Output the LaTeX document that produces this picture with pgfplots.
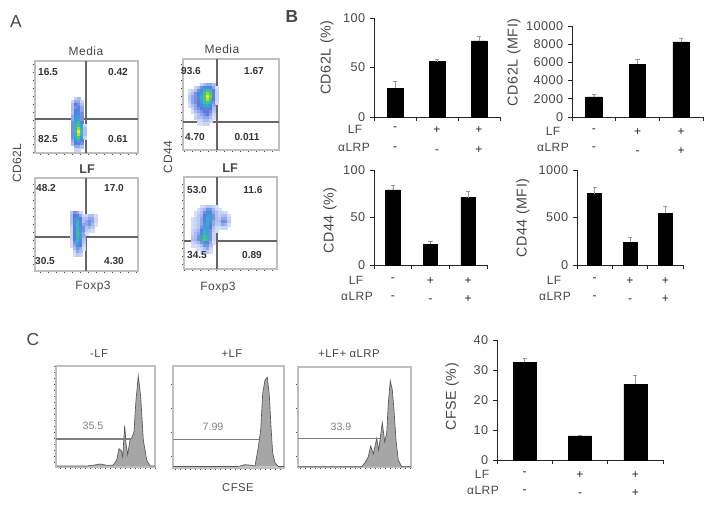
\documentclass[border=0pt]{standalone}
\usepackage{pgfplots}
\pgfplotsset{compat=1.18}
\usepackage{fontspec}
\setmainfont{Liberation Sans}[LetterSpace=4]
\newfontfamily\numf{Liberation Sans}
\definecolor{txt}{gray}{0.28}
\newcommand\T[4][]{\node[inner sep=0pt,text=txt,font=\fontsize{9}{11}\selectfont,#1] at (#2*0.75pt,-#3*0.75pt) {#4};}
\newcommand\N[3]{\node[inner sep=0pt,text=black!80,font=\fontsize{7.6}{9}\numf\bfseries] at (#1*0.75pt,-#2*0.75pt) {#3};}
\pgfplotsset{
 colormap={flow}{rgb=(.9,.92,.99) rgb=(.35,.48,.87) rgb=(.2,.7,.8) rgb=(.35,.8,.3) rgb=(.95,.9,.2)},
 flowax/.style={scale only axis,clip=true,y dir=reverse,axis line style={draw=gray!50,line width=.9pt},
   tick align=outside,major tick length=1.5pt,tick style={draw=black!70,line width=.4pt},
   xticklabels={},yticklabels={},xtick distance=8,ytick distance=8,
   xtick pos=bottom,ytick pos=left,point meta min=0,point meta max=1,colormap name=flow},
 cross/.style={draw=black!60,line width=1.1pt,forget plot},
 blob/.style={scatter,only marks,mark=square*,mark size=1.15pt,scatter src=explicit,
   scatter/use mapped color={draw=mapped color,fill=mapped color}},
 histfill/.style={fill=gray!70,draw=black!65,line width=.5pt},
 gate/.style={draw=gray,line width=.9pt},
 barax/.style={scale only axis,clip=false,axis lines=left,x axis line style={-},y axis line style={-},
   axis line style={draw=black!85,line width=.7pt},
   xmin=-.5,xmax=2.5,ymin=0,
   major tick length=3pt,
   tick style={draw=black!85,line width=.6pt},
   xtick={-.5,.5,1.5,2.5},xticklabels={},
   extra x ticks={0,1,2},
   extra x tick labels={{-\\[#1]-},{+\\[#1]-},{+\\[#1]+}},
   extra x tick style={major tick length=0pt},
   xticklabel style={align=center,text=black!85,font=\fontsize{9}{11}\selectfont},
   yticklabel style={text=txt,font=\fontsize{9.5}{11}\selectfont},
   /pgf/number format/assume math mode=true,/pgf/number format/1000 sep={},
   tick align=outside,xtick pos=bottom,ytick pos=left,
   ylabel style={text=txt,font=\fontsize{10.7}{12}\selectfont},
 },
 barax/.default=2.7pt,
 bars/.style={ybar,bar width=#1*0.75pt,fill=black,draw=black,bar shift=0pt,
   error bars/.cd,y dir=plus,y explicit,error bar style={draw=gray!80,line width=.5pt},
   error mark options={rotate=90,mark size=1.6pt,draw=gray!80,line width=.4pt}},
}
\begin{document}
\begin{tikzpicture}
\path[use as bounding box] (0,0) rectangle (541.5pt,-384.75pt);
% ---------- Panel A ----------
\begin{axis}[flowax,at={(35*0.75pt,-153*0.75pt)},anchor=south west,width=103*0.75pt,height=92*0.75pt,
 xmin=35,xmax=138,ymin=61,ymax=153]
\addplot[blob] coordinates {
(76,99)[.05](79,99)[.1]
(73,102)[.05](76,102)[.15](79,102)[.15](82,102)[.05]
(73,105)[.1](76,105)[.25](79,105)[.2](82,105)[.1]
(73,108)[.1](76,108)[.2](79,108)[.3](82,108)[.15]
(73,111)[.1](76,111)[.25](79,111)[.3](82,111)[.15]
(73,114)[.1](76,114)[.25](79,114)[.35](82,114)[.2]
(73,117)[.15](76,117)[.3](79,117)[.4](82,117)[.2]
(73,120)[.15](76,120)[.35](79,120)[.45](82,120)[.2]
(73,123)[.2](76,123)[.45](79,123)[.55](82,123)[.3]
(73,126)[.2](76,126)[.5](79,126)[.7](82,126)[.4](85,126)[.05]
(73,129)[.2](76,129)[.5](79,129)[.85](82,129)[.5](85,129)[.1]
(73,132)[.2](76,132)[.55](79,132)[1](82,132)[.6](85,132)[.1]
(73,135)[.2](76,135)[.5](79,135)[.9](82,135)[.5](85,135)[.1]
(73,138)[.2](76,138)[.45](79,138)[.7](82,138)[.4](85,138)[.05]
(73,141)[.15](76,141)[.35](79,141)[.5](82,141)[.3]
(73,144)[.1](76,144)[.25](79,144)[.3](82,144)[.2]
(76,147)[.15](79,147)[.15](82,147)[.1]
(76,150)[.05](79,150)[.05]
};
\addplot[cross] coordinates {(86,61)(86,153)};
\addplot[cross] coordinates {(35,119)(138,119)};
\end{axis}
\begin{axis}[flowax,at={(183*0.75pt,-150*0.75pt)},anchor=south west,width=96*0.75pt,height=91*0.75pt,
 xmin=183,xmax=279,ymin=59,ymax=150]
\addplot[blob] coordinates {
(202,85)[.05](205,85)[.1](208,85)[.15](211,85)[.15](214,85)[.1]
(196,88)[.05](199,88)[.1](202,88)[.2](205,88)[.3](208,88)[.35](211,88)[.3](214,88)[.15](217,88)[.03]
(190,91)[.03](193,91)[.05](196,91)[.1](199,91)[.2](202,91)[.3](205,91)[.5](208,91)[.6](211,91)[.55](214,91)[.25](217,91)[.05]
(190,94)[.05](193,94)[.1](196,94)[.2](199,94)[.3](202,94)[.4](205,94)[.65](208,94)[.85](211,94)[.7](214,94)[.3](217,94)[.05]
(190,97)[.08](193,97)[.15](196,97)[.2](199,97)[.3](202,97)[.45](205,97)[.7](208,97)[1](211,97)[.8](214,97)[.3](217,97)[.05]
(190,100)[.08](193,100)[.15](196,100)[.2](199,100)[.3](202,100)[.45](205,100)[.65](208,100)[.9](211,100)[.7](214,100)[.25](217,100)[.05]
(190,103)[.05](193,103)[.15](196,103)[.2](199,103)[.25](202,103)[.4](205,103)[.55](208,103)[.7](211,103)[.5](214,103)[.2](217,103)[.03]
(190,106)[.03](193,106)[.1](196,106)[.15](199,106)[.25](202,106)[.3](205,106)[.4](208,106)[.45](211,106)[.35](214,106)[.15]
(193,109)[.05](196,109)[.15](199,109)[.2](202,109)[.25](205,109)[.3](208,109)[.3](211,109)[.25](214,109)[.1]
(193,112)[.03](196,112)[.1](199,112)[.15](202,112)[.2](205,112)[.25](208,112)[.25](211,112)[.2](214,112)[.08]
(196,115)[.05](199,115)[.1](202,115)[.15](205,115)[.2](208,115)[.25](211,115)[.15](214,115)[.05]
(196,118)[.05](199,118)[.1](202,118)[.1](205,118)[.15](208,118)[.15](211,118)[.1](214,118)[.03]
(199,121)[.05](202,121)[.05](205,121)[.1](208,121)[.1](211,121)[.05]
(199,124)[.03](202,124)[.03](205,124)[.05](208,124)[.05]
};
\addplot[cross,line width=.8pt] coordinates {(217,59)(217,150)};
\addplot[cross,line width=.8pt] coordinates {(183,122)(279,122)};
\end{axis}
\begin{axis}[flowax,at={(35*0.75pt,-271*0.75pt)},anchor=south west,width=103*0.75pt,height=93*0.75pt,
 xmin=35,xmax=138,ymin=178,ymax=271]
\addplot[blob] coordinates {
(72,213)[.08](75,213)[.2](78,213)[.15](81,213)[.05]
(72,216)[.1](75,216)[.25](78,216)[.3](81,216)[.15](84,216)[.05](87,216)[.05](90,216)[.1](93,216)[.1](96,216)[.03]
(72,219)[.1](75,219)[.3](78,219)[.4](81,219)[.25](84,219)[.1](87,219)[.1](90,219)[.15](93,219)[.15](96,219)[.05]
(72,222)[.1](75,222)[.3](78,222)[.5](81,222)[.3](84,222)[.1](87,222)[.15](90,222)[.2](93,222)[.15](96,222)[.05]
(72,225)[.08](75,225)[.3](78,225)[.55](81,225)[.3](84,225)[.15](87,225)[.15](90,225)[.2](93,225)[.12](96,225)[.03]
(72,228)[.05](75,228)[.25](78,228)[.5](81,228)[.35](84,228)[.2](87,228)[.1](90,228)[.12](93,228)[.08]
(72,231)[.05](75,231)[.25](78,231)[.55](81,231)[.4](84,231)[.2](87,231)[.08](90,231)[.05](93,231)[.03]
(72,234)[.05](75,234)[.25](78,234)[.6](81,234)[.45](84,234)[.15](87,234)[.03]
(72,237)[.05](75,237)[.25](78,237)[.6](81,237)[.4](84,237)[.15]
(72,240)[.05](75,240)[.25](78,240)[.5](81,240)[.35](84,240)[.1]
(72,243)[.03](75,243)[.2](78,243)[.45](81,243)[.3](84,243)[.08]
(72,246)[.03](75,246)[.15](78,246)[.35](81,246)[.25](84,246)[.05]
(75,249)[.1](78,249)[.2](81,249)[.15](84,249)[.03]
(75,252)[.05](78,252)[.15](81,252)[.1]
(75,255)[.03](78,255)[.08](81,255)[.05]
};
\addplot[cross] coordinates {(86,178)(86,271)};
\addplot[cross] coordinates {(35,237)(138,237)};
\end{axis}
\begin{axis}[flowax,at={(184*0.75pt,-269*0.75pt)},anchor=south west,width=93*0.75pt,height=92*0.75pt,
 xmin=184,xmax=277,ymin=177,ymax=269]
\addplot[blob] coordinates {
(202,207)[.03](205,207)[.05](208,207)[.08](211,207)[.08](214,207)[.05](217,207)[.03]
(199,210)[.03](202,210)[.08](205,210)[.12](208,210)[.2](211,210)[.2](214,210)[.12](217,210)[.05](220,210)[.03]
(196,213)[.03](199,213)[.05](202,213)[.1](205,213)[.2](208,213)[.3](211,213)[.3](214,213)[.15](217,213)[.1](220,213)[.05](223,213)[.05](226,213)[.03]
(196,216)[.03](199,216)[.08](202,216)[.12](205,216)[.25](208,216)[.4](211,216)[.35](214,216)[.2](217,216)[.1](220,216)[.05](223,216)[.1](226,216)[.1](229,216)[.03]
(193,219)[.03](196,219)[.05](199,219)[.08](202,219)[.15](205,219)[.3](208,219)[.45](211,219)[.4](214,219)[.2](217,219)[.1](220,219)[.08](223,219)[.15](226,219)[.15](229,219)[.05]
(193,222)[.03](196,222)[.05](199,222)[.08](202,222)[.15](205,222)[.3](208,222)[.45](211,222)[.35](214,222)[.15](217,222)[.1](220,222)[.1](223,222)[.2](226,222)[.2](229,222)[.08]
(193,225)[.03](196,225)[.05](199,225)[.08](202,225)[.15](205,225)[.35](208,225)[.45](211,225)[.3](214,225)[.15](217,225)[.08](220,225)[.08](223,225)[.15](226,225)[.12](229,225)[.03]
(193,228)[.03](196,228)[.05](199,228)[.08](202,228)[.2](205,228)[.4](208,228)[.4](211,228)[.25](214,228)[.1](217,228)[.05](220,228)[.03](223,228)[.05](226,228)[.05]
(193,231)[.05](196,231)[.08](199,231)[.12](202,231)[.25](205,231)[.45](208,231)[.4](211,231)[.2](214,231)[.08](217,231)[.03]
(193,234)[.05](196,234)[.1](199,234)[.15](202,234)[.3](205,234)[.5](208,234)[.45](211,234)[.2](214,234)[.05]
(193,237)[.08](196,237)[.1](199,237)[.2](202,237)[.4](205,237)[.65](208,237)[.5](211,237)[.2](214,237)[.05]
(193,240)[.1](196,240)[.12](199,240)[.2](202,240)[.45](205,240)[.7](208,240)[.55](211,240)[.2](214,240)[.05]
(193,243)[.05](196,243)[.08](199,243)[.12](202,243)[.2](205,243)[.35](208,243)[.3](211,243)[.15](214,243)[.03]
(193,246)[.03](196,246)[.03](199,246)[.05](202,246)[.1](205,246)[.2](208,246)[.2](211,246)[.1]
(199,249)[.03](202,249)[.05](205,249)[.1](208,249)[.15](211,249)[.05]
(202,252)[.03](205,252)[.05](208,252)[.08](211,252)[.03]
};
\addplot[cross,line width=.8pt] coordinates {(217,177)(217,269)};
\addplot[cross,line width=.8pt] coordinates {(184,241)(277,241)};
\end{axis}
\T[font=\fontsize{13}{15}\selectfont]{16}{22}{A}
\T{86}{51}{Media}\T{222}{49}{Media}
\T[font=\fontsize{9.5}{11}\numf\bfseries]{87}{169}{LF}\T[font=\fontsize{9.5}{11}\numf\bfseries]{230}{168}{LF}
\T[rotate=90]{17}{163}{CD62L}\T[rotate=90]{168}{157}{CD44}
\T{93}{287}{Foxp3}\T{218}{288}{Foxp3}
\N{48}{72}{16.5}\N{118}{72}{0.42}\N{48}{139}{82.5}\N{118}{139}{0.61}
\N{191}{71}{93.6}\N{254}{71}{1.67}\N{195}{137}{4.70}\N{247}{137}{0.011}
\N{46}{188}{48.2}\N{114}{188}{17.0}\N{45}{261}{30.5}\N{114}{261}{4.30}
\N{197}{190}{53.0}\N{253}{190}{11.6}\N{197}{255}{34.5}\N{252}{255}{0.89}
% ---------- Panel B ----------
\begin{axis}[barax=4pt,at={(374*0.75pt,-117*0.75pt)},anchor=south west,width=126*0.75pt,height=99*0.75pt,
 ymax=100,ytick={0,50,100},ylabel={CD62L (\%)},xticklabel style={yshift=-3.5pt},
 every axis y label/.append style={at={(axis description cs:-.373,.6)},anchor=center}]
\addplot[bars=16] coordinates {(0,29) +- (0,7) (1,56) +- (0,2) (2,77) +- (0,5)};
\end{axis}
\begin{axis}[barax,at={(572*0.75pt,-117*0.75pt)},anchor=south west,width=131*0.75pt,height=91*0.75pt,
 ymax=10000,ytick={0,2000,4000,6000,8000,10000},ylabel={CD62L (MFI)},scaled y ticks=false,xticklabel style={yshift=-5.5pt},
 every axis y label/.append style={at={(axis description cs:-.443,.6)},anchor=center}]
\addplot[bars=16.5] coordinates {(0,2200) +- (0,300) (1,5800) +- (0,550) (2,8250) +- (0,450)};
\end{axis}
\begin{axis}[barax,at={(374*0.75pt,-265*0.75pt)},anchor=south west,width=113*0.75pt,height=95*0.75pt,
 ymax=100,ytick={0,50,100},ylabel={CD44 (\%)},xticklabel style={yshift=-5.75pt},
 every axis y label/.append style={at={(axis description cs:-.39,.47)},anchor=center}]
\addplot[bars=14.5] coordinates {(0,79) +- (0,5) (1,22) +- (0,3) (2,71) +- (0,7)};
\end{axis}
\begin{axis}[barax,at={(577*0.75pt,-265*0.75pt)},anchor=south west,width=106*0.75pt,height=95*0.75pt,
 ymax=1000,ytick={0,500,1000},ylabel={CD44 (MFI)},xticklabel style={yshift=-5.75pt},
 every axis y label/.append style={at={(axis description cs:-.51,.495)},anchor=center}]
\addplot[bars=14] coordinates {(0,750) +- (0,70) (1,240) +- (0,50) (2,545) +- (0,75)};
\end{axis}
\T[font=\fontsize{13}{15}\numf\bfseries]{292}{17}{B}
\T{355}{129}{LF}\T{354}{147}{αLRP}
\T{553}{131}{LF}\T{553}{147}{αLRP}
\T{356}{280}{LF}\T{357}{296}{αLRP}
\T{554}{280}{LF}\T{555}{296}{αLRP}
% ---------- Panel C ----------
\begin{axis}[flowax,at={(56*0.75pt,-467*0.75pt)},anchor=south west,width=99*0.75pt,height=101*0.75pt,
 xmin=56,xmax=155,ymin=366,ymax=467,xtick distance=5,ytick distance=6]
\addplot[histfill] coordinates {(56.7,466)(86.7,466)(93,465.3)(100,464)(106.7,465.3)(113,465.3)(116.7,460)(119,448.7)(121.3,450.7)(122.7,456.7)(124.7,425.3)(126,443.3)(127.7,454.7)(130,440)(132,437.3)(134,431.7)(136,400)(138.3,376)(140.7,396.7)(143.3,440)(146.7,460)(150,466)(155,466)};
\addplot[gate] coordinates {(56,439)(131,439)};
\end{axis}
\begin{axis}[flowax,at={(173*0.75pt,-468*0.75pt)},anchor=south west,width=111*0.75pt,height=102*0.75pt,
 xmin=173,xmax=284,ymin=366,ymax=468,xtick distance=5,ytick distance=24]
\addplot[histfill] coordinates {(173,466.5)(238,466.5)(245,464.7)(251.7,465.3)(255,466)(258.3,447.3)(260.7,430)(262.7,393.3)(265,380)(267.3,377.3)(269.3,395)(271,426.7)(272.7,453.3)(275,462.7)(278.3,466.5)(284,466.5)};
\addplot[gate] coordinates {(173,439.7)(259,439.7)};
\end{axis}
\begin{axis}[flowax,at={(298*0.75pt,-467*0.75pt)},anchor=south west,width=113*0.75pt,height=100*0.75pt,
 xmin=298,xmax=411,ymin=367,ymax=467,xtick distance=5,ytick distance=24]
\addplot[histfill] coordinates {(298,466.7)(361.7,466.7)(365,462.7)(368.3,456.7)(370.7,446)(373.3,454)(376.7,438.3)(378.7,450)(382.3,422.7)(384.7,441.7)(386.7,433.3)(388.3,403.3)(390.3,380.7)(392.3,390)(394,410)(396,440)(398.3,460)(401.7,466.7)(411,466.7)};
\addplot[gate] coordinates {(298,438.7)(380,438.7)};
\end{axis}
\begin{axis}[barax,at={(497*0.75pt,-460*0.75pt)},anchor=south west,width=166*0.75pt,height=120*0.75pt,
 ymax=40,ytick={0,10,20,30,40},ylabel={CFSE (\%)},xticklabel style={yshift=-5pt},
 every axis y label/.append style={at={(axis description cs:-.27,.525)},anchor=center}]
\addplot[bars=23] coordinates {(0,32.5) +- (0,1.3) (1,8) +- (0,.2) (2,25.3) +- (0,3)};
\end{axis}
\T[font=\fontsize{13}{15}\selectfont]{33}{340}{C}
\T[font=\fontsize{8.5}{10}\selectfont]{99}{354}{-LF}\T[font=\fontsize{8.5}{10}\selectfont]{232}{354}{+LF}\T[font=\fontsize{8.5}{10}\selectfont]{349}{354}{+LF+ αLRP}
\T[font=\fontsize{8}{10}\numf,text=gray]{93}{426}{35.5}\T[font=\fontsize{8}{10}\numf,text=gray]{213}{427}{7.99}\T[font=\fontsize{8}{10}\numf,text=gray]{341}{427}{33.9}
\T[font=\fontsize{8.5}{10}\selectfont]{238}{488}{CFSE}
\T{482}{474}{LF}\T{483}{490}{αLRP}
\end{tikzpicture}
\end{document}
